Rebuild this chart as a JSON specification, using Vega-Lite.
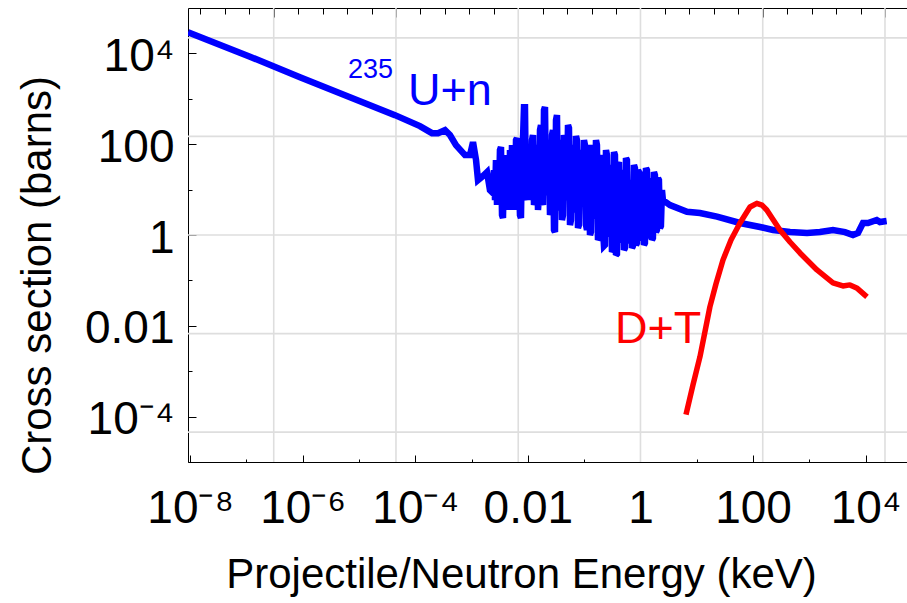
{
  "$schema": "https://vega.github.io/schema/vega-lite/v6.json",
  "width": 719,
  "height": 454,
  "autosize": {"type": "none"},
  "padding": {"left": 188, "top": 8, "right": 0, "bottom": 141},
  "background": "white",
  "config": {
    "view": {"stroke": null},
    "axis": {
      "labelFont": "Liberation Sans",
      "titleFont": "Liberation Sans",
      "domainColor": "black",
      "domainWidth": 1,
      "tickColor": "black",
      "tickWidth": 1,
      "labelColor": "black",
      "titleColor": "black",
      "titleFontWeight": "normal",
      "grid": false
    }
  },
  "datasets": {
    "u235": [
      {"E": 9.18e-9, "sigma": 29300},
      {"E": 1.16e-7, "sigma": 8450},
      {"E": 8.95e-7, "sigma": 2990},
      {"E": 6.92e-6, "sigma": 1087},
      {"E": 4.36e-5, "sigma": 437},
      {"E": 1.21e-4, "sigma": 250},
      {"E": 1.98e-4, "sigma": 175},
      {"E": 2.53e-4, "sigma": 175},
      {"E": 3.37e-4, "sigma": 204},
      {"E": 4.13e-4, "sigma": 159},
      {"E": 5.28e-4, "sigma": 95.5},
      {"E": 7.63e-4, "sigma": 57.5},
      {"E": 9.37e-4, "sigma": 57.5},
      {"E": 1.06e-3, "sigma": 111},
      {"E": 1.20e-3, "sigma": 44.7},
      {"E": 1.30e-3, "sigma": 16.2},
      {"E": 1.59e-3, "sigma": 19.9},
      {"E": 1.88e-3, "sigma": 24.3},
      {"E": 2.12e-3, "sigma": 9.77},
      {"E": 0.00240, "sigma": 8.40},
      {"E": 0.00250, "sigma": 26.9},
      {"E": 0.00261, "sigma": 5.89},
      {"E": 0.00271, "sigma": 44.7},
      {"E": 0.00283, "sigma": 4.57},
      {"E": 0.00294, "sigma": 34.7},
      {"E": 0.00307, "sigma": 7.59},
      {"E": 0.00319, "sigma": 74.1},
      {"E": 0.00333, "sigma": 86.3},
      {"E": 0.00347, "sigma": 2.75},
      {"E": 0.00361, "sigma": 2.37},
      {"E": 0.00376, "sigma": 26.9},
      {"E": 0.00392, "sigma": 4.57},
      {"E": 0.00408, "sigma": 57.5},
      {"E": 0.00426, "sigma": 5.89},
      {"E": 0.00443, "sigma": 34.7},
      {"E": 0.00462, "sigma": 3.55},
      {"E": 0.00481, "sigma": 74.1},
      {"E": 0.00501, "sigma": 7.59},
      {"E": 0.00522, "sigma": 95.5},
      {"E": 0.00544, "sigma": 4.57},
      {"E": 0.00566, "sigma": 74.1},
      {"E": 0.00590, "sigma": 3.55},
      {"E": 0.00615, "sigma": 123},
      {"E": 0.00640, "sigma": 136},
      {"E": 0.00667, "sigma": 9.77},
      {"E": 0.00695, "sigma": 16.2},
      {"E": 0.00724, "sigma": 2.75},
      {"E": 0.00754, "sigma": 2.37},
      {"E": 0.00786, "sigma": 74.1},
      {"E": 0.00818, "sigma": 123},
      {"E": 0.00853, "sigma": 655},
      {"E": 0.00888, "sigma": 655},
      {"E": 0.00925, "sigma": 7.59},
      {"E": 0.00964, "sigma": 5.89},
      {"E": 0.01004, "sigma": 44.7},
      {"E": 0.01046, "sigma": 74.1},
      {"E": 0.01090, "sigma": 5.89},
      {"E": 0.01135, "sigma": 9.77},
      {"E": 0.01183, "sigma": 123},
      {"E": 0.01232, "sigma": 159},
      {"E": 0.01284, "sigma": 4.57},
      {"E": 0.01337, "sigma": 5.89},
      {"E": 0.01393, "sigma": 74.1},
      {"E": 0.01451, "sigma": 95.5},
      {"E": 0.01512, "sigma": 3.55},
      {"E": 0.01575, "sigma": 7.59},
      {"E": 0.01641, "sigma": 204},
      {"E": 0.01709, "sigma": 263},
      {"E": 0.01780, "sigma": 5.89},
      {"E": 0.01855, "sigma": 4.57},
      {"E": 0.01932, "sigma": 563},
      {"E": 0.02013, "sigma": 655},
      {"E": 0.02097, "sigma": 9.77},
      {"E": 0.02184, "sigma": 7.59},
      {"E": 0.02276, "sigma": 123},
      {"E": 0.02370, "sigma": 95.5},
      {"E": 0.02470, "sigma": 2.75},
      {"E": 0.02572, "sigma": 3.55},
      {"E": 0.02681, "sigma": 159},
      {"E": 0.02791, "sigma": 204},
      {"E": 0.02909, "sigma": 1.29},
      {"E": 0.03029, "sigma": 1.16},
      {"E": 0.03157, "sigma": 339},
      {"E": 0.03287, "sigma": 437},
      {"E": 0.03426, "sigma": 4.57},
      {"E": 0.03567, "sigma": 3.55},
      {"E": 0.03718, "sigma": 123},
      {"E": 0.03871, "sigma": 95.5},
      {"E": 0.04035, "sigma": 2.14},
      {"E": 0.04201, "sigma": 2.75},
      {"E": 0.04378, "sigma": 159},
      {"E": 0.04559, "sigma": 123},
      {"E": 0.04752, "sigma": 5.89},
      {"E": 0.04947, "sigma": 7.59},
      {"E": 0.05157, "sigma": 263},
      {"E": 0.05369, "sigma": 226},
      {"E": 0.05596, "sigma": 1.66},
      {"E": 0.05826, "sigma": 2.14},
      {"E": 0.06073, "sigma": 74.1},
      {"E": 0.06322, "sigma": 95.5},
      {"E": 0.06590, "sigma": 3.21},
      {"E": 0.06861, "sigma": 3.93},
      {"E": 0.07152, "sigma": 151},
      {"E": 0.07445, "sigma": 123},
      {"E": 0.07761, "sigma": 1.43},
      {"E": 0.08079, "sigma": 1.66},
      {"E": 0.08422, "sigma": 57.5},
      {"E": 0.08768, "sigma": 74.1},
      {"E": 0.09140, "sigma": 4.57},
      {"E": 0.09514, "sigma": 5.89},
      {"E": 0.09919, "sigma": 123},
      {"E": 0.1032, "sigma": 95.5},
      {"E": 0.1076, "sigma": 1.66},
      {"E": 0.1120, "sigma": 1.29},
      {"E": 0.1168, "sigma": 74.1},
      {"E": 0.1216, "sigma": 95.5},
      {"E": 0.1267, "sigma": 1.0},
      {"E": 0.1319, "sigma": 1.16},
      {"E": 0.1375, "sigma": 95.5},
      {"E": 0.1432, "sigma": 74.1},
      {"E": 0.1493, "sigma": 2.37},
      {"E": 0.1554, "sigma": 2.75},
      {"E": 0.1620, "sigma": 123},
      {"E": 0.1686, "sigma": 95.5},
      {"E": 0.1758, "sigma": 0.776},
      {"E": 0.1830, "sigma": 0.859},
      {"E": 0.1908, "sigma": 44.7},
      {"E": 0.1986, "sigma": 57.5},
      {"E": 0.2070, "sigma": 1.16},
      {"E": 0.2155, "sigma": 1.43},
      {"E": 0.2247, "sigma": 0.573},
      {"E": 0.2338, "sigma": 0.603},
      {"E": 0.2438, "sigma": 74.1},
      {"E": 0.2538, "sigma": 57.5},
      {"E": 0.2646, "sigma": 0.951},
      {"E": 0.2754, "sigma": 1.05},
      {"E": 0.2872, "sigma": 26.9},
      {"E": 0.2989, "sigma": 34.7},
      {"E": 0.3116, "sigma": 0.423},
      {"E": 0.3243, "sigma": 0.468},
      {"E": 0.3382, "sigma": 67.0},
      {"E": 0.3520, "sigma": 57.5},
      {"E": 0.3670, "sigma": 0.363},
      {"E": 0.3820, "sigma": 0.382},
      {"E": 0.3983, "sigma": 34.7},
      {"E": 0.4145, "sigma": 40.4},
      {"E": 0.4322, "sigma": 0.776},
      {"E": 0.4498, "sigma": 0.702},
      {"E": 0.4690, "sigma": 20.9},
      {"E": 0.4881, "sigma": 26.9},
      {"E": 0.5090, "sigma": 0.468},
      {"E": 0.5297, "sigma": 0.518},
      {"E": 0.5524, "sigma": 49.4},
      {"E": 0.5748, "sigma": 44.7},
      {"E": 0.5994, "sigma": 0.776},
      {"E": 0.6238, "sigma": 0.667},
      {"E": 0.6505, "sigma": 12.6},
      {"E": 0.6769, "sigma": 16.2},
      {"E": 0.7059, "sigma": 0.518},
      {"E": 0.7346, "sigma": 0.573},
      {"E": 0.7661, "sigma": 34.7},
      {"E": 0.7972, "sigma": 29.8},
      {"E": 0.8314, "sigma": 0.603},
      {"E": 0.8651, "sigma": 0.667},
      {"E": 0.9022, "sigma": 26.9},
      {"E": 0.9388, "sigma": 24.3},
      {"E": 0.9791, "sigma": 0.859},
      {"E": 1.0188, "sigma": 0.776},
      {"E": 1.0625, "sigma": 20.9},
      {"E": 1.1056, "sigma": 24.3},
      {"E": 1.1530, "sigma": 0.603},
      {"E": 1.1998, "sigma": 0.667},
      {"E": 1.2513, "sigma": 29.8},
      {"E": 1.3020, "sigma": 26.9},
      {"E": 1.3579, "sigma": 1.0},
      {"E": 1.4129, "sigma": 0.859},
      {"E": 1.4736, "sigma": 16.2},
      {"E": 1.5333, "sigma": 18.0},
      {"E": 1.5991, "sigma": 0.776},
      {"E": 1.6639, "sigma": 0.859},
      {"E": 1.7354, "sigma": 24.3},
      {"E": 1.8057, "sigma": 20.9},
      {"E": 1.8833, "sigma": 1.16},
      {"E": 1.9595, "sigma": 1.29},
      {"E": 2.0437, "sigma": 18.0},
      {"E": 2.1264, "sigma": 16.2},
      {"E": 2.2179, "sigma": 1.43},
      {"E": 2.3076, "sigma": 1.58},
      {"E": 2.4069, "sigma": 9.77},
      {"E": 2.5042, "sigma": 5.89},
      {"E": 3.34, "sigma": 4.57},
      {"E": 6.70, "sigma": 3.26},
      {"E": 11.4, "sigma": 3.05},
      {"E": 22.9, "sigma": 2.53},
      {"E": 58.5, "sigma": 1.84},
      {"E": 133, "sigma": 1.50},
      {"E": 226, "sigma": 1.29},
      {"E": 453, "sigma": 1.16},
      {"E": 908, "sigma": 1.11},
      {"E": 1545, "sigma": 1.16},
      {"E": 2625, "sigma": 1.29},
      {"E": 4290, "sigma": 1.16},
      {"E": 5950, "sigma": 1.0},
      {"E": 7300, "sigma": 1.11},
      {"E": 8950, "sigma": 1.84},
      {"E": 11000, "sigma": 1.84},
      {"E": 15700, "sigma": 2.14},
      {"E": 17900, "sigma": 1.93},
      {"E": 23600, "sigma": 2.03}
    ],
    "dt": [
      {"E": 6.43, "sigma": 0.00011},
      {"E": 8.56, "sigma": 0.0005},
      {"E": 11.4, "sigma": 0.00209},
      {"E": 17.1, "sigma": 0.0261},
      {"E": 21.9, "sigma": 0.0836},
      {"E": 29.2, "sigma": 0.282},
      {"E": 40.5, "sigma": 0.776},
      {"E": 58.5, "sigma": 1.84},
      {"E": 88.1, "sigma": 4.13},
      {"E": 116.5, "sigma": 4.99},
      {"E": 144, "sigma": 4.57},
      {"E": 175, "sigma": 3.55},
      {"E": 300, "sigma": 1.29},
      {"E": 453, "sigma": 0.702},
      {"E": 681, "sigma": 0.402},
      {"E": 1365, "sigma": 0.170},
      {"E": 2625, "sigma": 0.088},
      {"E": 3935, "sigma": 0.0755},
      {"E": 5250, "sigma": 0.0796},
      {"E": 6920, "sigma": 0.0683},
      {"E": 10550, "sigma": 0.0433}
    ],
    "gridx": [
      {"E": 3.059e-7}, {"E": 4.540e-5}, {"E": 6.738e-3}, {"E": 1}, {"E": 148.41}, {"E": 22026.47}
    ],
    "gridy": [
      {"sigma": 4.540e-5}, {"sigma": 6.738e-3}, {"sigma": 1}, {"sigma": 148.41}, {"sigma": 22026.47}
    ],
    "notes": [
      {"E": 6.38e-6, "sigma": 2845, "label": "235"},
      {"E": 7.42e-5, "sigma": 724, "label": "U+n"},
      {"E": 0.352, "sigma": 0.0042, "label": "D+T"}
    ]
  },
  "layer": [
    {
      "data": {"name": "gridx"},
      "mark": {"type": "rule", "color": "#dedede", "strokeWidth": 1.6},
      "encoding": {
        "x": {
          "field": "E", "type": "quantitative",
          "scale": {"type": "log", "domain": [9.18e-9, 54200], "nice": false},
          "axis": {
            "orient": "top",
            "title": null,
            "labels": false,
            "domain": true,
            "ticks": true,
            "values": [1.523e-8, 4.140e-8, 1.125e-7, 3.059e-7, 8.315e-7, 2.260e-6, 6.144e-6, 1.670e-5, 4.540e-5, 1.234e-4, 3.355e-4, 9.119e-4, 2.479e-3, 6.738e-3, 1.832e-2, 4.979e-2, 0.1353, 0.3679, 1, 2.718, 7.389, 20.09, 54.60, 148.41, 403.4, 1096.6, 2981, 8103, 22026.47],
            "tickSize": {"condition": {"test": "abs(log(datum.value)/5 - round(log(datum.value)/5)) < 0.01", "value": -9}, "value": -6}
          }
        }
      }
    },
    {
      "data": {"name": "gridy"},
      "mark": {"type": "rule", "color": "#dedede", "strokeWidth": 1.6},
      "encoding": {
        "y": {
          "field": "sigma", "type": "quantitative",
          "scale": {"type": "log", "domain": [1e-5, 1e5], "nice": false},
          "axis": null
        }
      }
    },
    {
      "data": {"name": "u235"},
      "mark": {"type": "line", "color": "#0000ff", "strokeWidth": 6.5, "strokeJoin": "miter", "strokeMiterLimit": 2.5, "clip": true},
      "encoding": {
        "x": {
          "field": "E", "type": "quantitative",
          "scale": {"type": "log", "domain": [9.18e-9, 54200], "nice": false},
          "axis": {
            "orient": "bottom",
            "title": "Projectile/Neutron Energy (keV)",
            "values": [1e-8, 1e-7, 1e-6, 1e-5, 1e-4, 1e-3, 1e-2, 1e-1, 1, 10, 100, 1000, 10000],
            "labelExpr": "['10⁻⁸','','10⁻⁶','','10⁻⁴','','0.01','','1','','100','','10⁴'][round(log(datum.value)/LN10) + 8]",
            "labelFontSize": 46,
            "labelBaseline": "alphabetic",
            "labelPadding": 67,
            "labelOverlap": false,
            "labelFlush": false,
            "labelBound": false,
            "tickSize": {"condition": {"test": "round(log(datum.value)/LN10) % 2 == 0", "value": -7}, "value": -3},
            "titleFontSize": 42,
            "titleX": 333,
            "titleY": 125,
            "titleBaseline": "alphabetic",
            "titleAlign": "center"
          }
        },
        "y": {
          "field": "sigma", "type": "quantitative",
          "scale": {"type": "log", "domain": [1e-5, 1e5], "nice": false},
          "axis": {
            "orient": "left",
            "title": "Cross section (barns)",
            "values": [1e-5, 1e-4, 1e-3, 1e-2, 1e-1, 1, 10, 100, 1000, 10000],
            "labelExpr": "['','10⁻⁴','','0.01','','1','','100','','10⁴'][round(log(datum.value)/LN10) + 5]",
            "labelFontSize": 46,
            "labelBaseline": "middle",
            "labelAlign": "right",
            "labelPadding": 22,
            "labelOffset": 3,
            "labelOverlap": false,
            "labelFlush": false,
            "labelBound": false,
            "tickSize": {"condition": {"test": "round(log(datum.value)/LN10) % 2 == 0", "value": -8}, "value": -4},
            "titleFontSize": 42,
            "titleX": -138,
            "titleY": 267,
            "titleAngle": 270,
            "titleBaseline": "alphabetic",
            "titleAlign": "center"
          }
        }
      }
    },
    {
      "data": {"name": "dt"},
      "mark": {"type": "line", "color": "#ff0000", "strokeWidth": 5.5, "strokeJoin": "round", "clip": true},
      "encoding": {
        "x": {"field": "E", "type": "quantitative", "scale": {"type": "log", "domain": [9.18e-9, 54200], "nice": false}, "axis": null},
        "y": {"field": "sigma", "type": "quantitative", "scale": {"type": "log", "domain": [1e-5, 1e5], "nice": false}, "axis": null}
      }
    },
    {
      "data": {"name": "notes"},
      "transform": [{"filter": "datum.label == '235'"}],
      "mark": {"type": "text", "color": "#0000ff", "font": "Liberation Sans", "fontSize": 27, "align": "left", "baseline": "alphabetic"},
      "encoding": {
        "x": {"field": "E", "type": "quantitative", "scale": {"type": "log", "domain": [9.18e-9, 54200], "nice": false}, "axis": null},
        "y": {"field": "sigma", "type": "quantitative", "scale": {"type": "log", "domain": [1e-5, 1e5], "nice": false}, "axis": null},
        "text": {"field": "label"}
      }
    },
    {
      "data": {"name": "notes"},
      "transform": [{"filter": "datum.label == 'U+n'"}],
      "mark": {"type": "text", "color": "#0000ff", "font": "Liberation Sans", "fontSize": 45, "align": "left", "baseline": "alphabetic"},
      "encoding": {
        "x": {"field": "E", "type": "quantitative", "scale": {"type": "log", "domain": [9.18e-9, 54200], "nice": false}, "axis": null},
        "y": {"field": "sigma", "type": "quantitative", "scale": {"type": "log", "domain": [1e-5, 1e5], "nice": false}, "axis": null},
        "text": {"field": "label"}
      }
    },
    {
      "data": {"name": "notes"},
      "transform": [{"filter": "datum.label == 'D+T'"}],
      "mark": {"type": "text", "color": "#ff0000", "font": "Liberation Sans", "fontSize": 45, "align": "left", "baseline": "alphabetic"},
      "encoding": {
        "x": {"field": "E", "type": "quantitative", "scale": {"type": "log", "domain": [9.18e-9, 54200], "nice": false}, "axis": null},
        "y": {"field": "sigma", "type": "quantitative", "scale": {"type": "log", "domain": [1e-5, 1e5], "nice": false}, "axis": null},
        "text": {"field": "label"}
      }
    }
  ],
  "resolve": {"axis": {"x": "independent", "y": "independent"}}
}
